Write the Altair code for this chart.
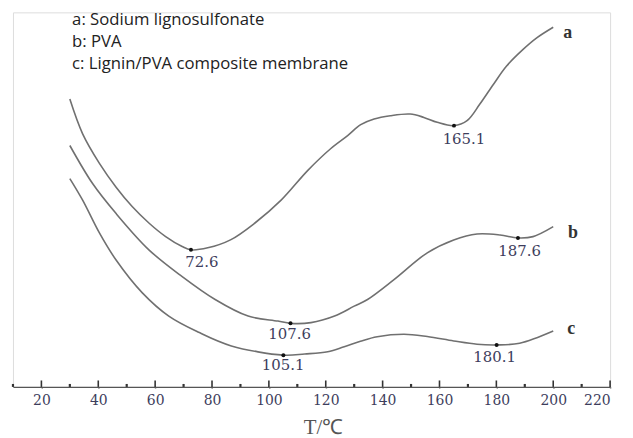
import altair as alt
import pandas as pd

# Curve a: Sodium lignosulfonate (x = temperature, h = relative signal height)
a_x = [30, 34.5, 40.4, 46.2, 52.0, 57.8, 63.7, 69.5, 72.6, 78.5, 86.5, 95.1, 104.3, 113.7, 121.8,
       127.7, 132.3, 137.0, 142.7, 149.7, 154.5, 159.2, 165.1, 169.7, 174.2, 179.0, 183.6, 189.4,
       194.2, 200]
a_h = [289.7, 254.7, 225, 201.3, 181.3, 165, 151.3, 141.3, 138, 140, 148, 165, 188, 218, 240,
       253, 264, 269.7, 273, 274.7, 271.3, 266.3, 263, 268, 284.7, 304.7, 323, 339.7,
       351.3, 362]
# Curve b: PVA
b_x = [30, 38.0, 46.2, 57.8, 69.4, 81.1, 92.7, 103.2, 107.6, 114.8, 123.1, 130.0, 134.7, 144.0,
       155.7, 165.0, 173.2, 181.3, 187.6, 192.9, 200]
b_h = [243, 204.7, 174.7, 138, 111.3, 88, 71.3, 66.3, 64, 64.7, 71.3, 81.3, 88, 108,
       135, 148, 154, 153, 150, 151.3, 161.3]
# Curve c: Lignin/PVA composite membrane
c_x = [30, 34.5, 40.4, 46.2, 55.5, 64.8, 75.3, 86.8, 105.1, 112.6, 120.7, 126.5, 132.2, 138.1,
       147.5, 155.7, 165.0, 173.2, 180.1, 188.2, 200]
c_h = [209.7, 188, 155, 128, 94.7, 71.3, 55, 41.3, 32, 33.2, 35.5, 40.5, 46, 50.5,
       53, 50.7, 46.3, 43, 42.3, 44, 56.3]

# Marked minima
min_x = [72.6, 165.1, 107.6, 187.6, 105.1, 180.1]
min_h = [138, 263, 64, 150, 32, 42.3]
min_label = ["72.6", "165.1", "107.6", "187.6", "105.1", "180.1"]
min_label_x = [76.4, 168.6, 107.3, 188.2, 105.0, 179.4]
min_label_h = [126, 250, 53, 136.3, 22, 30]

# Curve names at right ends
name_text = ["a", "b", "c"]
name_x = [205.1, 206.9, 206.3]
name_h = [356.3, 155, 58]

# Legend lines
legend_text = ["a: Sodium lignosulfonate", "b: PVA", "c: Lignin/PVA composite membrane"]
legend_x = [30.8, 30.8, 30.8]
legend_h = [369, 347, 325]

# Axis ticks
major_ticks = list(range(20, 221, 20))
minor_ticks = list(range(10, 220, 20))

curves = pd.concat([
    pd.DataFrame({"T": a_x, "h": a_h, "s": "a"}),
    pd.DataFrame({"T": b_x, "h": b_h, "s": "b"}),
    pd.DataFrame({"T": c_x, "h": c_h, "s": "c"}),
])
mins = pd.DataFrame({"T": min_x, "h": min_h, "lab": min_label, "lx": min_label_x, "lh": min_label_h})
names = pd.DataFrame({"T": name_x, "h": name_h, "t": name_text})
legend = pd.DataFrame({"T": legend_x, "h": legend_h, "t": legend_text})
major_df = pd.DataFrame({"T": major_ticks})
minor_df = pd.DataFrame({"T": minor_ticks})

xscale = alt.Scale(domain=[10, 220], nice=False, zero=False)
yscale = alt.Scale(domain=[0, 377], nice=False, zero=False)

xaxis = alt.Axis(
    values=major_ticks, ticks=True, tickSize=1, tickWidth=1.5, tickColor="#444444", grid=False,
    domainColor="#555555", domainWidth=1.2,
    labelFont="DejaVu Serif", labelFontSize=14, labelColor="#3d3d5c", labelPadding=6,
    title="T/℃", titleFont="Liberation Serif", titleFontSize=21, titleFontWeight="normal",
    titleColor="#555555", titlePadding=9, titleX=312,
)

lines = alt.Chart(curves).mark_line(color="#707070", strokeWidth=1.6, interpolate="catmull-rom").encode(
    x=alt.X("T:Q", scale=xscale, axis=xaxis),
    y=alt.Y("h:Q", scale=yscale, axis=None),
    detail="s:N",
)

dots = alt.Chart(mins).mark_circle(color="#111111", size=16, opacity=1).encode(
    x=alt.X("T:Q", scale=xscale),
    y=alt.Y("h:Q", scale=yscale),
)

min_text = alt.Chart(mins).mark_text(
    font="DejaVu Serif", fontSize=15, color="#3d3d5c", align="center", baseline="middle"
).encode(
    x=alt.X("lx:Q", scale=xscale),
    y=alt.Y("lh:Q", scale=yscale),
    text="lab:N",
)

name_marks = alt.Chart(names).mark_text(
    font="Liberation Serif", fontSize=18, fontWeight="bold", color="#333333", align="center", baseline="middle"
).encode(
    x=alt.X("T:Q", scale=xscale),
    y=alt.Y("h:Q", scale=yscale),
    text="t:N",
)

legend_marks = alt.Chart(legend).mark_text(
    font="Open Sans", fontSize=16.8, color="#222222", align="left", baseline="middle"
).encode(
    x=alt.X("T:Q", scale=xscale),
    y=alt.Y("h:Q", scale=yscale),
    text="t:N",
)

major_marks = alt.Chart(major_df).mark_rule(color="#333333", strokeWidth=1.6).encode(
    x=alt.X("T:Q", scale=xscale),
    y=alt.YDatum(0),
    y2=alt.Y2Datum(6.5),
)
minor_marks = alt.Chart(minor_df).mark_rule(color="#333333", strokeWidth=2.2).encode(
    x=alt.X("T:Q", scale=xscale),
    y=alt.YDatum(0),
    y2=alt.Y2Datum(3),
)

chart = alt.layer(lines, major_marks, minor_marks, dots, min_text, name_marks, legend_marks).properties(
    width=601, height=377,
    autosize=alt.AutoSizeParams(type="none"),
    padding={"left": 5, "top": 3, "right": 15, "bottom": 50},
).configure_view(stroke=None).configure(background="white")

chart.save("out.html", embed_options={"renderer": "svg", "actions": False})
